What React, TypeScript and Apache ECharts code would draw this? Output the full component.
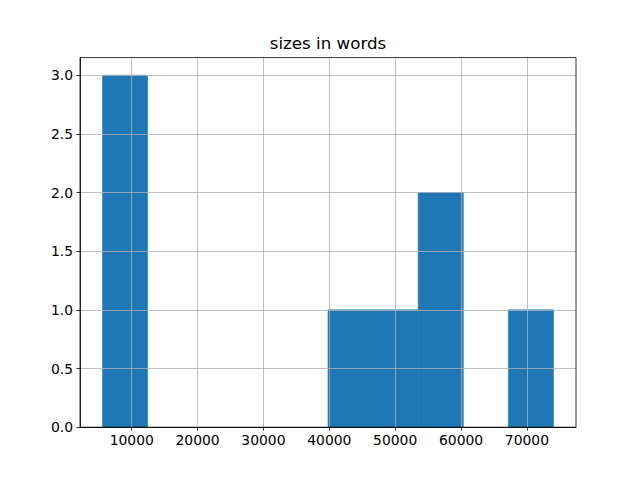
import React, { useEffect, useRef } from "react";
import * as echarts from "echarts";

const binEdges = [5570, 12416, 19262, 26108, 32954, 39800, 46646, 53492, 60338, 67184, 74030];
const counts = [3, 0, 0, 0, 0, 1, 1, 2, 0, 1];
const xTicks = [10000, 20000, 30000, 40000, 50000, 60000, 70000];
const yTicks = [0, 0.5, 1, 1.5, 2, 2.5, 3];
const titleText = "sizes in words";

const FONT = "DejaVu Sans";

export default function App() {
  const ref = useRef<HTMLDivElement>(null);
  useEffect(() => {
    if (!ref.current) return;
    const chart = echarts.init(ref.current, null, { renderer: "svg" });
    const range = binEdges[binEdges.length - 1] - binEdges[0];
    const xMin = binEdges[0] - 0.05 * range;
    const xMax = binEdges[binEdges.length - 1] + 0.05 * range;
    const yMax = Math.max(...counts) * 1.05;
    const data = counts.map((c, i) => [binEdges[i], binEdges[i + 1], c]);
    chart.setOption({
      animation: false,
      backgroundColor: "#ffffff",
      grid: {
        left: 80,
        right: 64,
        top: 57.6,
        bottom: 52.8,
        show: true,
        borderColor: "#000000",
        borderWidth: 0.8,
        backgroundColor: "transparent",
        z: 4,
      },
      graphic: [
        {
          type: "text",
          x: 328,
          y: 43,
          z: 10,
          style: {
            text: titleText,
            font: `16.7px "${FONT}"`,
            fill: "#000000",
            align: "center",
            verticalAlign: "middle",
          },
        },
      ],
      xAxis: {
        type: "value",
        min: xMin,
        max: xMax,
        z: 3,
        axisLine: { show: true, onZero: false, lineStyle: { color: "#000000", width: 0.8 } },
        axisTick: {
          show: true,
          customValues: xTicks,
          length: 3.5,
          lineStyle: { color: "#000000", width: 0.8 },
        },
        axisLabel: {
          customValues: xTicks,
          margin: 6,
          color: "#000000",
          fontFamily: FONT,
          fontSize: 13.9,
          formatter: (v: number) => String(v),
        },
        splitLine: { show: true, lineStyle: { color: "#b0b0b0", width: 0.8 } },
      },
      yAxis: {
        type: "value",
        min: 0,
        max: yMax,
        z: 3,
        axisLine: { show: true, lineStyle: { color: "#000000", width: 0.8 } },
        axisTick: {
          show: true,
          customValues: yTicks,
          length: 3.5,
          lineStyle: { color: "#000000", width: 0.8 },
        },
        axisLabel: {
          customValues: yTicks,
          margin: 7,
          color: "#000000",
          fontFamily: FONT,
          fontSize: 13.9,
          formatter: (v: number) => v.toFixed(1),
        },
        splitLine: { show: true, lineStyle: { color: "#b0b0b0", width: 0.8 } },
      },
      series: [
        {
          type: "custom",
          z: 1,
          data,
          encode: { x: [0, 1], y: 2 },
          renderItem: (params: any, api: any) => {
            const s = api.value(0);
            const e = api.value(1);
            const c = api.value(2);
            if (!c) return null;
            const p1 = api.coord([s, c]);
            const p2 = api.coord([e, 0]);
            return {
              type: "rect",
              shape: { x: p1[0], y: p1[1], width: p2[0] - p1[0], height: p2[1] - p1[1] },
              style: { fill: "#1f77b4", stroke: "#1f77b4", lineWidth: 0.6 },
            };
          },
        },
      ],
    });
    return () => chart.dispose();
  }, []);
  return (
    <div
      ref={ref}
      style={{ position: "fixed", left: 0, top: 0, width: 640, height: 480 }}
    />
  );
}
